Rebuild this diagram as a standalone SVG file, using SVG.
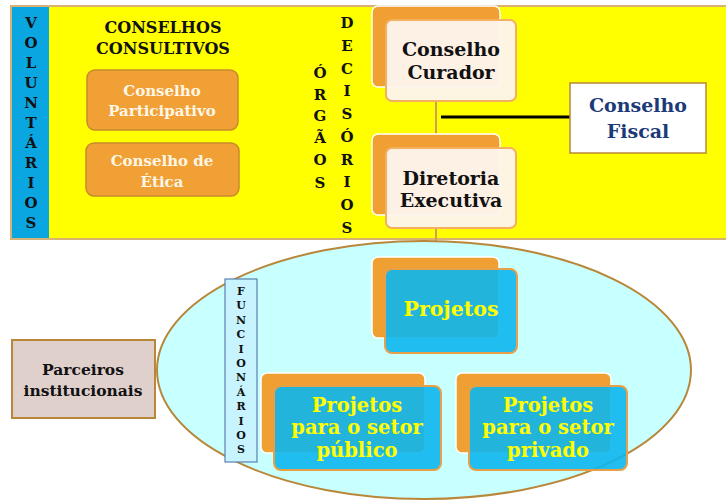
<svg xmlns="http://www.w3.org/2000/svg" width="726" height="501" viewBox="0 0 726 501">
<style>
text{font-family:"DejaVu Serif","Liberation Serif",serif;font-weight:bold;text-anchor:middle}
.back{fill:#f0a032;stroke:#ffffff;stroke-width:1.5}
.frontw{fill:#fdf4ee;stroke:#f2b060;stroke-width:2}
.frontb{fill:#0cb6ee;fill-opacity:0.9;stroke:#e8a048;stroke-width:2}
.cons{fill:#f0a035;stroke:#c98a2c;stroke-width:1.5}
.wt{fill:#fff6e6;font-size:15px}
.bt{fill:#111;font-size:19px}
.yt{fill:#ffff00;font-size:19.5px}
.vl{fill:#111;font-size:15px}
.conn{fill:none;stroke:#d4a050;stroke-width:2}
</style>
<rect width="726" height="501" fill="#ffffff"/>
<g id="band">
<rect x="11" y="6" width="720" height="233" fill="#ffff00" stroke="#d8b274" stroke-width="2"/>
<rect x="12" y="7" width="37" height="231" fill="#0aa6e2"/>
<text class="vl" x="31"><tspan x="31" y="28">V</tspan><tspan x="31" y="48">O</tspan><tspan x="31" y="68">L</tspan><tspan x="31" y="88">U</tspan><tspan x="31" y="108">N</tspan><tspan x="31" y="128">T</tspan><tspan x="31" y="148">Á</tspan><tspan x="31" y="168">R</tspan><tspan x="31" y="188">I</tspan><tspan x="31" y="208">O</tspan><tspan x="31" y="228">S</tspan></text>
<text class="vl" x="160" style="font-size:16px"><tspan x="163" y="33">CONSELHOS</tspan><tspan x="163" y="54">CONSULTIVOS</tspan></text>
<text class="vl" x="320"><tspan x="320" y="78">Ó</tspan><tspan x="320" y="100">R</tspan><tspan x="320" y="121">G</tspan><tspan x="320" y="143">Ã</tspan><tspan x="320" y="165">O</tspan><tspan x="320" y="188">S</tspan></text>
<text class="vl" x="347"><tspan x="347" y="28">D</tspan><tspan x="347" y="51">E</tspan><tspan x="347" y="74">C</tspan><tspan x="347" y="96">I</tspan><tspan x="347" y="119">S</tspan><tspan x="347" y="142">Ó</tspan><tspan x="347" y="165">R</tspan><tspan x="347" y="187">I</tspan><tspan x="347" y="210">O</tspan><tspan x="347" y="233">S</tspan></text>
</g>
<g id="connectors">
<line class="conn" x1="436" y1="100" x2="436" y2="150"/>
<line class="conn" x1="436" y1="227" x2="436" y2="270"/>
<line x1="441" y1="117" x2="571" y2="117" stroke="#000" stroke-width="3"/>
<polyline class="conn" points="343,373 343,359 534,359 534,373"/>
<line class="conn" x1="436" y1="352" x2="436" y2="359"/>
</g>
<g id="conselho-participativo">
<rect class="cons" x="87" y="70" width="151" height="60" rx="8"/>
<text class="wt"><tspan x="162" y="96">Conselho</tspan><tspan x="162" y="116">Participativo</tspan></text>
</g>
<g id="conselho-etica">
<rect class="cons" x="86" y="143" width="153" height="53" rx="8"/>
<text class="wt"><tspan x="162" y="166">Conselho de</tspan><tspan x="162" y="187">Ética</tspan></text>
</g>
<g id="conselho-curador">
<rect class="back" x="372" y="6" width="128" height="81" rx="6"/>
<rect class="frontw" x="386" y="20" width="130" height="81" rx="6" fill-opacity="0.95"/>
<text class="bt"><tspan x="451" y="56">Conselho</tspan><tspan x="451" y="79">Curador</tspan></text>
</g>
<g id="diretoria-executiva">
<rect class="back" x="372" y="134" width="128" height="81" rx="6"/>
<rect class="frontw" x="386" y="148" width="130" height="80" rx="6" fill-opacity="0.95"/>
<text class="bt"><tspan x="451" y="185">Diretoria</tspan><tspan x="451" y="207">Executiva</tspan></text>
</g>
<g id="conselho-fiscal">
<rect x="570" y="83" width="136" height="70" fill="#ffffff" stroke="#b88838" stroke-width="1.5"/>
<text style="fill:#1c3a78;font-size:19px"><tspan x="638" y="112">Conselho</tspan><tspan x="638" y="138">Fiscal</tspan></text>
</g>
<g id="funcionarios-area">
<ellipse cx="424" cy="370" rx="267" ry="129" fill="#c8ffff" stroke="#b8873a" stroke-width="2"/>
</g>
<g id="funcionarios">
<rect x="225" y="279" width="32" height="183" fill="#c8f4ff" stroke="#5a80b0" stroke-width="1.2"/>
<text class="vl" style="font-size:11px"><tspan x="241" y="295">F</tspan><tspan x="241" y="309">U</tspan><tspan x="241" y="324">N</tspan><tspan x="241" y="338">C</tspan><tspan x="241" y="353">I</tspan><tspan x="241" y="367">O</tspan><tspan x="241" y="381">N</tspan><tspan x="241" y="396">Á</tspan><tspan x="241" y="410">R</tspan><tspan x="241" y="425">I</tspan><tspan x="241" y="439">O</tspan><tspan x="241" y="453">S</tspan></text>
</g>
<g id="parceiros">
<rect x="12" y="340" width="143" height="78" fill="#e0d0cc" stroke="#b8873a" stroke-width="2"/>
<text class="vl" style="font-size:15.5px"><tspan x="83" y="375">Parceiros</tspan><tspan x="83" y="396">institucionais</tspan></text>
</g>
<g id="projetos">
<rect class="back" x="372" y="257" width="127" height="81" rx="6"/>
<rect class="frontb" x="385" y="269" width="132" height="84" rx="7"/>
<text class="yt" style="font-size:20.5px"><tspan x="451" y="316">Projetos</tspan></text>
</g>
<g id="projetos-publico">
<rect class="back" x="261" y="373" width="164" height="80" rx="6"/>
<rect class="frontb" x="274" y="386" width="167" height="84" rx="7"/>
<text class="yt"><tspan x="357" y="412">Projetos</tspan><tspan x="357" y="434">para o setor</tspan><tspan x="357" y="457">público</tspan></text>
</g>
<g id="projetos-privado">
<rect class="back" x="456" y="373" width="155" height="80" rx="6"/>
<rect class="frontb" x="469" y="386" width="158" height="84" rx="7"/>
<text class="yt"><tspan x="548" y="412">Projetos</tspan><tspan x="548" y="434">para o setor</tspan><tspan x="548" y="457">privado</tspan></text>
</g>
</svg>
